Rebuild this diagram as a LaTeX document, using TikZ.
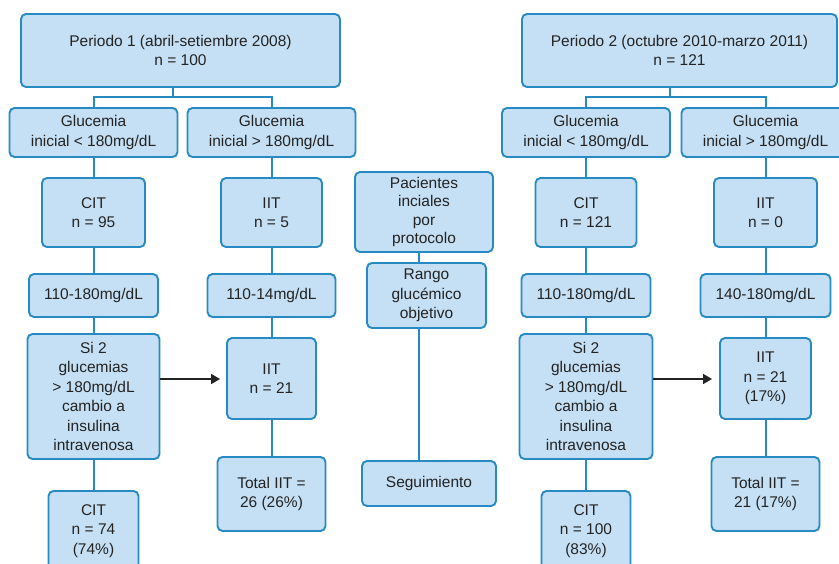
\documentclass[tikz,border=0pt]{standalone}
\usepackage{fontspec}
\setmainfont{Liberation Sans}
\usetikzlibrary{arrows.meta}
\definecolor{boxfill}{RGB}{197,224,244}
\definecolor{boxline}{RGB}{40,138,194}
\definecolor{txt}{RGB}{35,35,35}
\tikzset{
  box/.style={draw=boxline, fill=boxfill, line width=1.9pt, rounded corners=5pt,
    align=center, inner sep=0pt, text=txt,
    font=\fontsize{15.5}{19.5}\selectfont},
  link/.style={draw=boxline, line width=2pt},
  arr/.style={draw=txt, line width=1.6pt, -{Triangle[length=9pt,width=10pt]}}
}
\begin{document}
\begin{tikzpicture}[x=1pt,y=-1pt]
\useasboundingbox[fill=white] (0,0) rectangle (839,563);
\clip (0,0) rectangle (839,563);
% ---------- left ----------
\node[box, minimum width=319pt, minimum height=73pt] (p1) at (180.5,50.5) {Periodo 1 (abril-setiembre 2008)\\n = 100};
\node[box, minimum width=168pt, minimum height=49pt] (g1a) at (93.5,132.5) {Glucemia\\inicial < 180mg/dL};
\node[box, minimum width=168pt, minimum height=49pt] (g1b) at (271.5,132.5) {Glucemia\\inicial > 180mg/dL};
\node[box, minimum width=103pt, minimum height=69pt] (cit95) at (93.5,212.5) {CIT\\n = 95};
\node[box, minimum width=101pt, minimum height=69pt] (iit5) at (271.5,212.5) {IIT\\n = 5};
\node[box, minimum width=129pt, minimum height=43pt] (r1a) at (93.5,295.5) {110-180mg/dL};
\node[box, minimum width=128pt, minimum height=43pt] (r1b) at (271.5,295.5) {110-14mg/dL};
\node[box, minimum width=132pt, minimum height=125pt] (si1) at (93.5,396.5) {Si 2\\glucemias\\> 180mg/dL\\cambio a\\insulina\\intravenosa};
\node[box, minimum width=89pt, minimum height=81pt] (iit21a) at (271.5,378.5) {IIT\\n = 21};
\node[box, minimum width=108pt, minimum height=74pt] (tot1) at (271.5,494) {Total IIT =\\26 (26\%)};
\node[box, minimum width=90pt, minimum height=80pt] (cit74) at (93.5,531) {CIT\\n = 74\\(74\%)};
% ---------- centre ----------
\node[box, minimum width=138pt, minimum height=80pt, font=\fontsize{15.5}{18.5}\selectfont] (pac) at (424,212) {Pacientes\\inciales\\por\\protocolo};
\node[box, minimum width=119pt, minimum height=65pt] (rango) at (426.5,295.5) {Rango\\glucémico\\objetivo};
\node[box, minimum width=134pt, minimum height=45pt] (seg) at (429,483.5) {Seguimiento};
% ---------- right ----------
\node[box, minimum width=315pt, minimum height=73pt] (p2) at (679.5,50.5) {Periodo 2 (octubre 2010-marzo 2011)\\n = 121};
\node[box, minimum width=168pt, minimum height=49pt] (g2a) at (586,132.5) {Glucemia\\inicial < 180mg/dL};
\node[box, minimum width=168pt, minimum height=49pt] (g2b) at (765.5,132.5) {Glucemia\\inicial > 180mg/dL};
\node[box, minimum width=101pt, minimum height=69pt] (cit121) at (586,212.5) {CIT\\n = 121};
\node[box, minimum width=103pt, minimum height=69pt] (iit0) at (765.5,212.5) {IIT\\n = 0};
\node[box, minimum width=129pt, minimum height=43pt] (r2a) at (586,295.5) {110-180mg/dL};
\node[box, minimum width=130pt, minimum height=43pt] (r2b) at (765.5,295.5) {140-180mg/dL};
\node[box, minimum width=133pt, minimum height=125pt] (si2) at (586,396.5) {Si 2\\glucemias\\> 180mg/dL\\cambio a\\insulina\\intravenosa};
\node[box, minimum width=91pt, minimum height=81pt] (iit21b) at (765.5,378.5) {IIT\\n = 21\\(17\%)};
\node[box, minimum width=108pt, minimum height=74pt] (tot2) at (765.5,494) {Total IIT =\\21 (17\%)};
\node[box, minimum width=89pt, minimum height=80pt] (cit100) at (586,531) {CIT\\n = 100\\(83\%)};
% ---------- connectors ----------
\coordinate (j1) at (173,97);
\coordinate (j2) at (670,97);
\coordinate (cx) at (419,0);
\coordinate (a1) at (0,379);
\draw[link] (p1.south -| j1) -- (j1);
\draw[link] (g1a.north) |- (j1) -| (g1b.north);
\draw[link] (p2.south -| j2) -- (j2);
\draw[link] (g2a.north) |- (j2) -| (g2b.north);
\draw[link] (g1a) -- (cit95) (cit95) -- (r1a) (r1a) -- (si1) (si1) -- (cit74);
\draw[link] (g1b) -- (iit5) (iit5) -- (r1b) (r1b) -- (iit21a) (iit21a) -- (tot1);
\draw[link] (g2a) -- (cit121) (cit121) -- (r2a) (r2a) -- (si2) (si2) -- (cit100);
\draw[link] (g2b) -- (iit0) (iit0) -- (r2b) (r2b) -- (iit21b) (iit21b) -- (tot2);
\draw[link] (pac.south -| cx) -- (rango.north -| cx);
\draw[link] (rango.south -| cx) -- (seg.north -| cx);
\draw[arr, shorten >=6pt] (si1.east |- a1) -- (iit21a.west |- a1);
\draw[arr, shorten >=7pt] (si2.east |- a1) -- (iit21b.west |- a1);
\end{tikzpicture}
\end{document}
